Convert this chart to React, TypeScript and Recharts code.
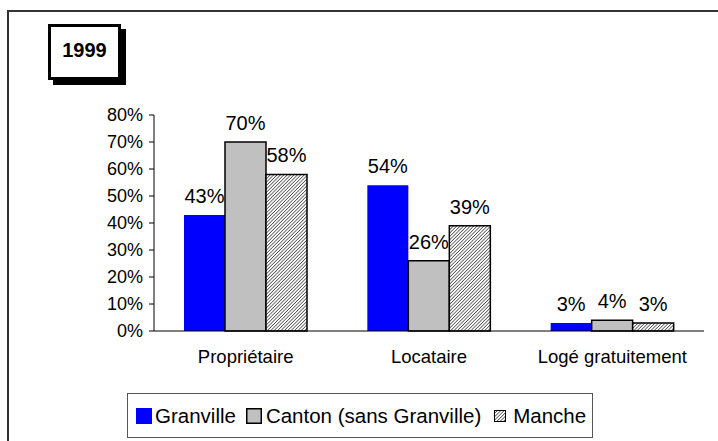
import React from 'react';
import { Bar, BarChart, LabelList, Legend, XAxis, YAxis } from 'recharts';

const categories = ['Propriétaire', 'Locataire', 'Logé gratuitement'];
const granville = [43, 54, 3];
const canton = [70, 26, 4];
const manche = [58, 39, 3];
const yTicks = [0, 10, 20, 30, 40, 50, 60, 70, 80];
const edgeTicks = [0, 1, 2, 3];

const data = categories.map((name, i) => ({
  name,
  granville: granville[i],
  canton: canton[i],
  manche: manche[i],
}));

const FONT = '"Liberation Sans", Arial, sans-serif';

const SERIES = [
  { key: 'granville', name: 'Granville', fill: '#0000FF', stroke: 'none' },
  { key: 'canton', name: 'Canton (sans Granville)', fill: '#C0C0C0', stroke: '#000' },
  { key: 'manche', name: 'Manche', fill: 'url(#hatch)', stroke: '#000' },
];

// thin "/" diagonal stripes
function HatchPattern({ id }: { id: string }) {
  return (
    <pattern id={id} width={2.4} height={2.4} patternUnits="userSpaceOnUse" patternTransform="rotate(45)">
      <rect width={2.4} height={2.4} fill="#fff" />
      <line x1={0} y1={0} x2={0} y2={2.4} stroke="#000" strokeWidth={1.1} />
    </pattern>
  );
}

function LegendIcon({ kind }: { kind: string }) {
  if (kind === 'granville') {
    return (
      <svg width={16} height={16} style={{ marginRight: 3 }}>
        <rect x={0} y={0} width={16} height={16} fill="#0000FF" />
      </svg>
    );
  }
  if (kind === 'canton') {
    return (
      <svg width={16} height={16} style={{ marginRight: 4 }}>
        <rect x={0.75} y={0.75} width={14.5} height={14.5} fill="#C0C0C0" stroke="#000" strokeWidth={1.5} />
      </svg>
    );
  }
  return (
    <svg width={12} height={12} style={{ marginRight: 7 }}>
      <defs>
        <HatchPattern id="hatch-legend" />
      </defs>
      <rect x={0.5} y={0.5} width={11} height={11} fill="url(#hatch-legend)" stroke="#000" strokeWidth={1} />
    </svg>
  );
}

function LegendBox() {
  return (
    <div
      style={{
        boxSizing: 'border-box',
        width: 466,
        height: 45,
        border: '1px solid #555',
        background: '#fff',
        display: 'flex',
        alignItems: 'center',
        paddingLeft: 8,
        fontFamily: FONT,
        fontSize: 20.5,
        color: '#000',
      }}
    >
      {SERIES.map((s, i) => (
        <span key={s.key} style={{ display: 'flex', alignItems: 'center', marginRight: i === 0 ? 10 : i === 1 ? 13 : 0 }}>
          <LegendIcon kind={s.key} />
          {s.name}
        </span>
      ))}
    </div>
  );
}

export default function App() {
  return (
    <div
      style={{
        position: 'absolute',
        left: 0,
        top: 0,
        width: 718,
        height: 441,
        overflow: 'hidden',
        background: '#fff',
      }}
    >
      {/* outer frame, runs off the right and bottom edges */}
      <div
        style={{
          position: 'absolute',
          left: 7,
          top: 10,
          width: 760,
          height: 480,
          borderTop: '2px solid #333',
          borderLeft: '2px solid #333',
        }}
      />
      <BarChart
        width={718}
        height={441}
        data={data}
        margin={{ top: 115, right: 14, left: 94, bottom: 80 }}
        barGap={0}
        barSize={41}
        style={{ position: 'absolute', left: 0, top: 0 }}
      >
        <defs>
          <HatchPattern id="hatch" />
        </defs>
        <XAxis
          dataKey="name"
          height={30}
          tickLine={false}
          tickSize={0}
          tickMargin={19}
          axisLine={{ stroke: '#000', strokeWidth: 1 }}
          tick={{ fontSize: 18.5, fill: '#000', fontFamily: FONT }}
        />
        <XAxis
          xAxisId="edges"
          type="number"
          domain={[0, 3]}
          ticks={edgeTicks}
          height={0}
          axisLine={false}
          tick={false}
          tickSize={5}
          tickLine={{ stroke: '#000' }}
        />
        <YAxis
          width={60}
          domain={[0, 80]}
          ticks={yTicks}
          interval={0}
          tickFormatter={(v: number) => `${v}%`}
          tickSize={5}
          tickMargin={6}
          axisLine={{ stroke: '#000' }}
          tickLine={{ stroke: '#000' }}
          tick={{ fontSize: 18, fill: '#000', fontFamily: FONT }}
        />
        <Legend
          layout="horizontal"
          verticalAlign="middle"
          align="center"
          wrapperStyle={{ left: 127, top: 393, width: 466, height: 45 }}
          content={() => <LegendBox />}
        />
        {SERIES.map((s) => (
          <Bar
            key={s.key}
            dataKey={s.key}
            name={s.name}
            fill={s.fill}
            stroke={s.stroke}
            strokeWidth={s.stroke === 'none' ? 0 : 1.5}
            isAnimationActive={false}
          >
            <LabelList
              dataKey={s.key}
              position="top"
              offset={12}
              formatter={(v: number) => `${v}%`}
              style={{ fontSize: 20, fill: '#000', fontFamily: FONT }}
            />
          </Bar>
        ))}
      </BarChart>
      {/* year badge with drop shadow */}
      <div
        style={{
          position: 'absolute',
          left: 48,
          top: 24,
          width: 73,
          height: 56,
          boxSizing: 'border-box',
          border: '3px solid #000',
          background: '#fff',
          boxShadow: '5px 5px 0 #000',
          display: 'flex',
          alignItems: 'center',
          justifyContent: 'center',
          paddingBottom: 4,
          fontFamily: FONT,
          fontWeight: 'bold',
          fontSize: 20,
          color: '#000',
        }}
      >
        1999
      </div>
    </div>
  );
}
